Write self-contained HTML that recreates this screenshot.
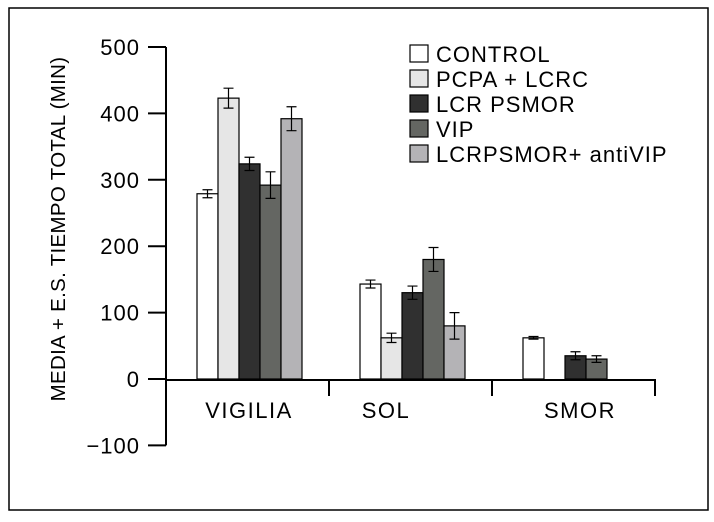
<!DOCTYPE html>
<html><head><meta charset="utf-8"><style>
body{margin:0;background:#fff;font-family:"Liberation Sans",sans-serif}
svg text{font-family:"Liberation Sans",sans-serif}
</style></head><body>
<svg width="714" height="517" viewBox="0 0 714 517" xmlns="http://www.w3.org/2000/svg">
<rect x="9" y="8" width="699" height="502" fill="#fff" stroke="#000" stroke-width="1.5"/>
<g id="plot"></g>
<script>
const categories=["VIGILIA","SOL","SMOR"];
const seriesNames=["CONTROL","PCPA + LCRC","LCR PSMOR","VIP","LCRPSMOR+ antiVIP"];
const control=[279,143,62];
const pcpa=[423,62,null];
const lcrPsmor=[324,130,35];
const vip=[292,180,30];
const antiVip=[392,80,null];
const controlErr=[6,6,2];
const pcpaErr=[15,7,null];
const lcrPsmorErr=[10,10,6];
const vipErr=[20,18,5];
const antiVipErr=[18,20,null];
const yTicks=[-100,0,100,200,300,400,500];
const colors=["#ffffff","#e6e6e6","#303030","#646662","#b4b3b6"];
const series=[control,pcpa,lcrPsmor,vip,antiVip];
const errs=[controlErr,pcpaErr,lcrPsmorErr,vipErr,antiVipErr];
const NS="http://www.w3.org/2000/svg";
const g=document.getElementById("plot");
const X0=166,CW=163,Y0=379,PPU=0.664,BW=21,OFF=31;
const y=v=>Y0-v*PPU;
function el(t,a){const e=document.createElementNS(NS,t);for(const k in a)e.setAttribute(k,a[k]);g.appendChild(e);return e;}
let ax=el("line",{x1:X0,y1:y(500),x2:X0,y2:y(-100),stroke:"#000","stroke-width":2});


yTicks.forEach(t=>{
 const l=el("line",{x1:X0-18,x2:X0,y1:y(t),y2:y(t),stroke:"#000","stroke-width":2});
 
 
 const tx=el("text",{x:X0-26,y:y(t)+8,"text-anchor":"end","font-size":22,"letter-spacing":1});
 tx.textContent=t<0?"\u2212"+(-t):t;
 
 
});
let xa=el("line",{x1:X0,y1:Y0+1,x2:X0+CW*3,y2:Y0+1,stroke:"#000","stroke-width":2});


for(let i=1;i<=3;i++){
 const l=el("line",{x1:X0+CW*i,x2:X0+CW*i,y1:Y0,y2:Y0+17,stroke:"#000","stroke-width":2});
 
 
}
const labelX=[249,386,580];
categories.forEach((c,i)=>{
 const tx=el("text",{x:labelX[i],y:Y0+39,"text-anchor":"middle","font-size":22,"letter-spacing":1.5});
 tx.textContent=c;
 
 
});
series.forEach((s,si)=>{
 s.forEach((v,ci)=>{
  if(v==null)return;
  const bx=X0+CW*ci+OFF+si*BW;
  const r=el("rect",{x:bx,y:y(v),width:BW,height:Y0-y(v),fill:colors[si],stroke:"#000","stroke-width":1.2});
  
  
  const e=errs[si][ci];
  if(e!=null){
   const cx=bx+BW/2;
   const p=el("path",{d:`M${cx},${y(v+e)}V${y(v-e)}M${cx-5},${y(v+e)}H${cx+5}M${cx-5},${y(v-e)}H${cx+5}`,stroke:"#000","stroke-width":1.2,fill:"none"});
   
   
  }
 });
});
seriesNames.forEach((n,i)=>{
 const ly=45+i*25;
 const r=el("rect",{x:410,y:ly,width:18,height:17,fill:colors[i],stroke:"#000","stroke-width":1.2});
 
 
 const t=el("text",{x:436,y:ly+17,"font-size":22,"letter-spacing":1});
 t.textContent=n;
 
 
});
const yt=el("text",{transform:"translate(65,229) rotate(-90)","text-anchor":"middle","font-size":20.5,"letter-spacing":0.3});
yt.textContent="MEDIA + E.S. TIEMPO TOTAL (MIN)";


</script>
</svg>
</body></html>
